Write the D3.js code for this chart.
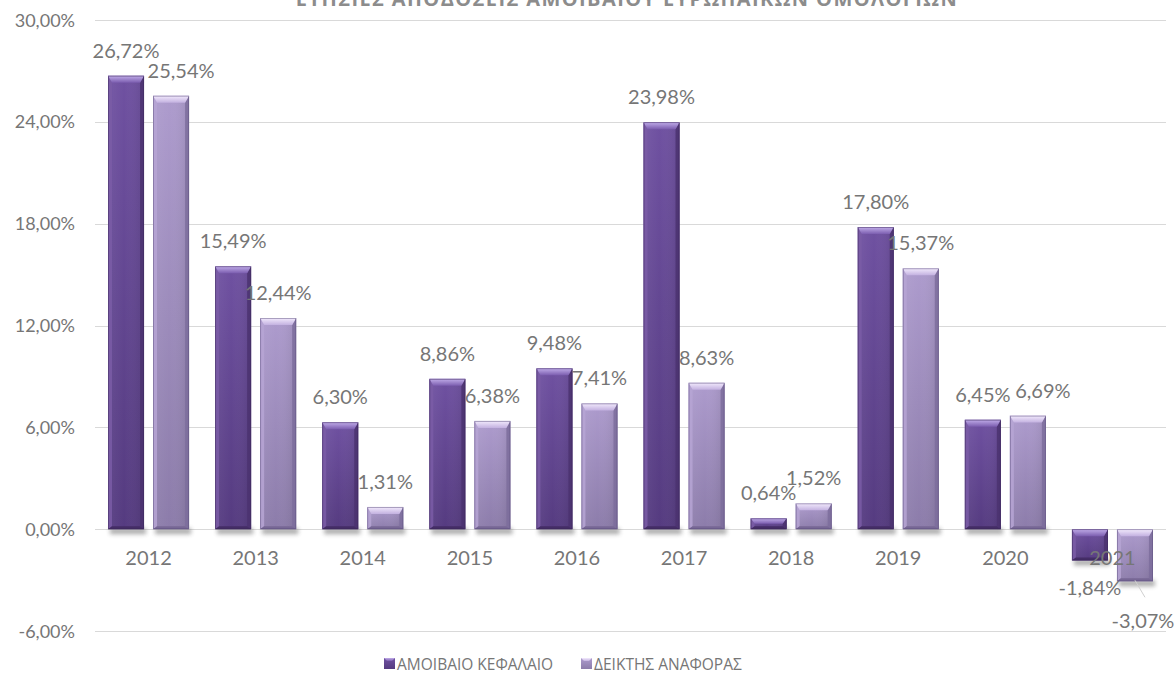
<!DOCTYPE html>
<html>
<head>
<meta charset="utf-8">
<script src="https://cdn.jsdelivr.net/npm/d3@7"></script>
<style>
  html, body { margin: 0; padding: 0; background: #ffffff; }
  svg { display: block; }
  text { font-family: Lato, "Open Sans", "Noto Sans", sans-serif; }
  .greek { font-family: "Open Sans", "Noto Sans", "DejaVu Sans", sans-serif; }
</style>
</head>
<body>
<svg id="chart" width="1175" height="674"></svg>
<script>
// ---- data ----
const years = ["2012", "2013", "2014", "2015", "2016", "2017", "2018", "2019", "2020", "2021"];
const fundReturns      = [26.72, 15.49, 6.30, 8.86, 9.48, 23.98, 0.64, 17.80, 6.45, -1.84];
const benchmarkReturns = [25.54, 12.44, 1.31, 6.38, 7.41,  8.63, 1.52, 15.37, 6.69, -3.07];
const seriesNames = ["ΑΜΟΙΒΑΙΟ ΚΕΦΑΛΑΙΟ", "ΔΕΙΚΤΗΣ ΑΝΑΦΟΡΑΣ"];
const yTicks = [-6, 0, 6, 12, 18, 24, 30];
const chartTitle = "ΕΤΗΣΙΕΣ ΑΠΟΔΟΣΕΙΣ ΑΜΟΙΒΑΙΟΥ ΕΥΡΩΠΑΪΚΩΝ ΟΜΟΛΟΓΙΩΝ";

// per-label nudges (series index, year index) -> [dx, dy] for labels moved off their bar
const labelNudge = { "1-0": [10, 0], "1-8": [15, 0], "1-9": [8, 12] };

// ---- setup ----
const svg = d3.select("#chart");
const defs = svg.append("defs");

const greekLocale = d3.formatLocale({ decimal: ",", thousands: ".", grouping: [3], currency: ["", "€"], minus: "-" });
const fmt = v => greekLocale.format(".2f")(v) + "%";

const x0 = d3.scaleBand().domain(years).range([95, 1166]).paddingInner(0.243).paddingOuter(0.1215);
const x1 = d3.scaleBand().domain([0, 1]).range([0, x0.bandwidth()]).paddingInner(0.2);
const y = d3.scaleLinear().domain([-6, 30]).range([631, 20]);

const palettes = [
  { bodyTop: "#6f51a1", bodyBot: "#553b80", bevelTop: "#c2aeea", bevelBot: "#7b5daf",
    left: "#7a5ca6", right: "#4b3270", bottom: "#442d66", edge: "#3c285a" },
  { bodyTop: "#ad9bcd", bodyBot: "#8c7caa", bevelTop: "#f3ebfd", bevelBot: "#c3b1e0",
    left: "#b6a5d3", right: "#7d6d9c", bottom: "#776795", edge: "#5f5180" }
];

palettes.forEach((p, i) => {
  const g = defs.append("linearGradient").attr("id", "body" + i)
    .attr("x1", 0).attr("y1", 0).attr("x2", 0).attr("y2", 1);
  g.append("stop").attr("offset", "0%").attr("stop-color", p.bodyTop);
  g.append("stop").attr("offset", "100%").attr("stop-color", p.bodyBot);
  const h = defs.append("linearGradient").attr("id", "hsheen" + i)
    .attr("x1", 0).attr("y1", 0).attr("x2", 1).attr("y2", 0);
  h.append("stop").attr("offset", "0%").attr("stop-color", "#ffffff").attr("stop-opacity", 0.06);
  h.append("stop").attr("offset", "45%").attr("stop-color", "#ffffff").attr("stop-opacity", 0.0);
  h.append("stop").attr("offset", "100%").attr("stop-color", "#000000").attr("stop-opacity", 0.10);
  const t = defs.append("linearGradient").attr("id", "bevel" + i)
    .attr("x1", 0).attr("y1", 0).attr("x2", 0).attr("y2", 1);
  t.append("stop").attr("offset", "0%").attr("stop-color", p.bevelTop);
  t.append("stop").attr("offset", "100%").attr("stop-color", p.bevelBot);
});

const blur = defs.append("filter").attr("id", "shadowBlur")
  .attr("x", "-20%").attr("y", "-100%").attr("width", "140%").attr("height", "300%");
blur.append("feGaussianBlur").attr("stdDeviation", 2.2);

// ---- title (runs off the top edge) ----
svg.append("text")
  .attr("class", "greek")
  .attr("x", 627).attr("y", 6)
  .attr("text-anchor", "middle")
  .attr("font-size", 20).attr("font-weight", 700)
  .attr("letter-spacing", 1.4)
  .attr("fill", "#8c8c8c")
  .text(chartTitle);

// ---- gridlines & y axis ----
const grid = svg.append("g");
grid.selectAll("line").data(yTicks).join("line")
  .attr("x1", 95).attr("x2", 1166)
  .attr("y1", d => Math.round(y(d)) + 0.5).attr("y2", d => Math.round(y(d)) + 0.5)
  .attr("stroke", "#d9d9d9").attr("stroke-width", 1);

const yAxis = d3.axisLeft(y).tickValues(yTicks).tickSize(0).tickPadding(0).tickFormat(fmt);
svg.append("g").attr("transform", "translate(75,0)").call(yAxis)
  .call(g => g.select(".domain").remove())
  .call(g => g.selectAll("text").attr("font-size", 18).attr("fill", "#767676")
    .attr("font-family", "Lato, sans-serif").attr("dy", "0.34em"));

// ---- bars ----
const series = [fundReturns, benchmarkReturns];

function bevelBar(g, bx, bw, top, bot, i) {
  const p = palettes[i];
  const h = bot - top;
  const t = Math.min(7, h / 2);           // top bevel depth
  const s = Math.min(4, bw / 4, h / 2);   // side bevel width
  const b = Math.min(3, h / 3);           // bottom bevel depth
  // soft shadow under the bar
  g.append("rect").attr("x", bx + 2).attr("y", bot - 1).attr("width", bw).attr("height", 6)
    .attr("fill", "#4a4a4a").attr("opacity", 0.45).attr("filter", "url(#shadowBlur)");
  g.append("rect").attr("x", bx).attr("y", top).attr("width", bw).attr("height", h)
    .attr("fill", `url(#body${i})`);
  g.append("rect").attr("x", bx).attr("y", top).attr("width", bw).attr("height", h)
    .attr("fill", `url(#hsheen${i})`);
  const poly = pts => g.append("polygon").attr("points", pts.map(q => q.join(",")).join(" "));
  poly([[bx, top], [bx + s, top + t], [bx + s, bot - b], [bx, bot]]).attr("fill", p.left).attr("opacity", 0.85);
  poly([[bx + bw, top], [bx + bw - s, top + t], [bx + bw - s, bot - b], [bx + bw, bot]]).attr("fill", p.right).attr("opacity", 0.85);
  poly([[bx, bot], [bx + s, bot - b], [bx + bw - s, bot - b], [bx + bw, bot]]).attr("fill", p.bottom);
  poly([[bx, top], [bx + bw, top], [bx + bw - s, top + t], [bx + s, top + t]]).attr("fill", `url(#bevel${i})`);
  g.append("rect").attr("x", bx + 0.5).attr("y", top + 0.5).attr("width", bw - 1).attr("height", Math.max(0, h - 1))
    .attr("fill", "none").attr("stroke", p.edge).attr("stroke-width", 0.8).attr("opacity", 0.6);
}

const barsG = svg.append("g");
years.forEach((yr, j) => {
  series.forEach((vals, i) => {
    const v = vals[j];
    const bx = x0(yr) + x1(i);
    const bw = x1.bandwidth();
    const top = y(Math.max(0, v));
    const bot = y(Math.min(0, v));
    bevelBar(barsG, bx, bw, top, bot, i);
  });
});

// ---- category labels ----
svg.append("g").selectAll("text").data(years).join("text")
  .attr("x", d => x0(d) + x0.bandwidth() / 2)
  .attr("y", y(0) + 36)
  .attr("text-anchor", "middle")
  .attr("font-size", 20).attr("fill", "#767676")
  .text(d => d);

// ---- data labels ----
const labelG = svg.append("g");
years.forEach((yr, j) => {
  series.forEach((vals, i) => {
    const v = vals[j];
    const cx = x0(yr) + x1(i) + x1.bandwidth() / 2;
    const nudge = labelNudge[i + "-" + j] || [0, 0];
    const ly = v >= 0 ? y(v) - 18 : y(v) + 35;
    if (v < 0 && nudge[1] !== 0) {
      // leader line for a label moved away from its bar
      labelG.append("line")
        .attr("x1", cx).attr("y1", y(v) - 1)
        .attr("x2", cx + nudge[0] + 2).attr("y2", y(v) + 16)
        .attr("stroke", "#d0d0d0").attr("stroke-width", 1);
    }
    labelG.append("text")
      .attr("x", cx + nudge[0]).attr("y", ly + nudge[1])
      .attr("text-anchor", "middle")
      .attr("font-size", 20).attr("fill", "#767676")
      .text(fmt(v));
  });
});

// ---- legend ----
const legend = svg.append("g");
const legendX = [384, 581];
seriesNames.forEach((name, i) => {
  const lg = legend.append("g").attr("transform", `translate(${legendX[i]},658)`);
  lg.append("rect").attr("width", 11).attr("height", 11).attr("fill", `url(#body${i})`);
  lg.append("polygon").attr("points", "0,0 11,0 8,3 3,3").attr("fill", `url(#bevel${i})`);
  lg.append("text").attr("class", "greek").attr("x", 13).attr("y", 11.5)
    .attr("font-size", 15.5).attr("fill", "#767676").text(name);
});
</script>
</body>
</html>
